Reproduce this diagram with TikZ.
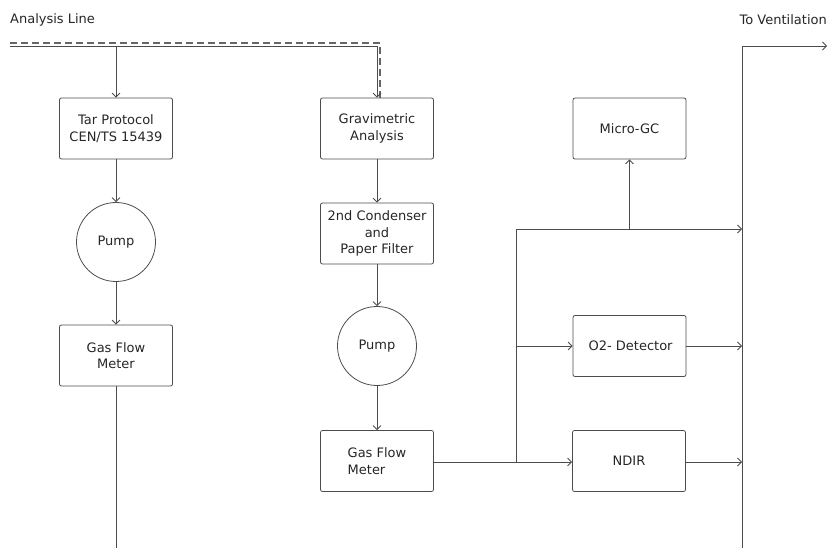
\documentclass[tikz,border=0pt]{standalone}
\usepackage{fontspec}
\setmainfont{DejaVu Sans}
\usetikzlibrary{arrows.meta, positioning}

\begin{document}
\begin{tikzpicture}[x=1pt, y=-1pt,
    font=\fontsize{13}{16.5}\selectfont, text=black!85,
    line/.style={draw=black!70, line width=0.8pt},
    flow/.style={line, -{Straight Barb[length=4pt, width=8pt]}},
    dashline/.style={draw=black!60, line width=1.1pt, dash pattern=on 7pt off 4pt},
    box/.style={draw=black!70, line width=0.8pt, rectangle, rounded corners=2pt,
      minimum width=113pt, minimum height=61pt, align=center, inner sep=2pt},
    pumpc/.style={draw=black!70, line width=0.8pt, circle, minimum size=79pt, inner sep=0pt}]
  \useasboundingbox (0,0) rectangle (828,548);

  % left branch
  \node[box] (tar) at (116,128.5) {Tar Protocol\\CEN/TS 15439};
  \node[pumpc] (pumpA) at (116,242) {Pump};
  \node[box] (flowA) at (116,355.5) {Gas Flow\\Meter};

  % middle branch
  \node[box] (grav) at (377,128.5) {Gravimetric\\Analysis};
  \node[box] (cond) at (377,233.5) {2nd Condenser\\and\\Paper Filter};
  \node[pumpc] (pumpB) at (377,346) {Pump};
  \node[box, align=left] (flowB) at (377,461) {Gas Flow\\Meter};

  % analysers
  \node[box] (gc) at (629.5,128.5) {Micro-GC};
  \node[box] (otwo) at (629.5,346) {\,O2- Detector};
  \node[box] (ndir) at (629,461) {NDIR};

  % labels
  \node[anchor=west, inner sep=0pt] (inlab) at (10,20) {Analysis Line};
  \node[anchor=east, inner sep=0pt] (outlab) at (827,20) {To Ventilation};

  % points
  \coordinate (a0) at (10,46);
  \coordinate (d0) at (10,43);
  \coordinate (endA) at (116,548);
  \coordinate (j) at (516,462);
  \coordinate (jt) at (516,229);
  \coordinate (vent) at (742,46);
  \coordinate (ventb) at (742,548);
  \coordinate (out) at (827,46);

  % analysis line
  \draw[dashline] (d0) -| ([xshift=3pt]grav.north);
  \draw[flow] (a0) -| (grav.north);
  \draw[flow] (tar.north |- a0) -- (tar.north);

  \draw[flow] (tar) -- (pumpA);
  \draw[flow] (pumpA) -- (flowA);
  \draw[line] (flowA.south) -- (endA);

  \draw[flow] (grav) -- (cond);
  \draw[flow] (cond) -- (pumpB);
  \draw[flow] (pumpB) -- (flowB);

  \draw[flow] (flowB.east |- j) -- (ndir.west |- j);
  \draw[line] (j) -- (jt);
  \draw[flow] (jt) -- (vent |- jt);
  \draw[flow] (gc.south |- jt) -- (gc.south);
  \draw[flow] (j |- otwo.west) -- (otwo.west);
  \draw[flow] (otwo.east) -- (vent |- otwo.east);
  \draw[flow] (ndir.east |- j) -- (vent |- j);

  % to ventilation
  \draw[flow] (ventb) -- (vent) -- (out);
\end{tikzpicture}
\end{document}
